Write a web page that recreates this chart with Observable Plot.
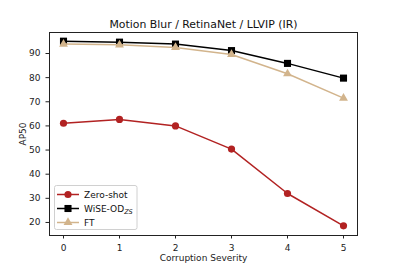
<!DOCTYPE html>
<html><head><meta charset="utf-8">
<script src="https://cdn.jsdelivr.net/npm/d3@7"></script>
<script src="https://cdn.jsdelivr.net/npm/@observablehq/plot@0.6"></script>
<style>body{margin:0;background:#fff;font-family:"DejaVu Sans",sans-serif}#c{position:relative;width:397px;height:264px}</style>
</head><body><div id="c"></div>
<script>
const severity = [0, 1, 2, 3, 4, 5];
const zeroShot = [61.1, 62.7, 60.0, 50.4, 32.0, 18.6];
const wiseOD = [95.1, 94.7, 93.9, 91.2, 85.9, 79.8];
const ft = [93.9, 93.6, 92.5, 89.6, 81.6, 71.5];
const yTicks = [20, 30, 40, 50, 60, 70, 80, 90];
const titleText = "Motion Blur / RetinaNet / LLVIP (IR)";

const series = [
  {name: "Zero-shot", values: zeroShot, color: "#b22222", symbol: "circle", r: 3.6},
  {name: "WiSE-OD", values: wiseOD, color: "#000000", symbol: "square", r: 4.0},
  {name: "FT", values: ft, color: "#d2b48c", symbol: "triangle", r: 3.3}
];
const rows = series.flatMap(s => s.values.map((v, i) => ({x: severity[i], y: v, s: s.name})));

const marks = [];
for (const s of series) {
  const d = rows.filter(r => r.s === s.name);
  marks.push(Plot.line(d, {x: "x", y: "y", stroke: s.color, strokeWidth: 1.5}));
  marks.push(Plot.dot(d, {x: "x", y: "y", fill: s.color, stroke: "none", symbol: () => s.symbol, r: s.r}));
}

const chart = Plot.plot({
  width: 397, height: 264,
  marginLeft: 49, marginRight: 40, marginTop: 32, marginBottom: 29,
  style: {fontFamily: "DejaVu Sans, sans-serif", fontSize: "9px", color: "#222", background: "#fff"},
  x: {domain: [-0.25, 5.25], ticks: severity, tickFormat: d => d, label: "Corruption Severity", labelAnchor: "center", labelOffset: 25.5, tickSize: 3.5, labelArrow: "none"},
  y: {domain: [14.6, 98.7], ticks: yTicks, label: "AP50", labelAnchor: "center", labelOffset: 30, tickSize: 3.5, labelArrow: "none"},
  marks: [
    Plot.frame({stroke: "#222", strokeWidth: 1}),
    ...marks,
    Plot.text([titleText], {frameAnchor: "top", lineAnchor: "bottom", dy: -5, fontSize: 10.9, fill: "#111", text: d => d})
  ]
});
document.getElementById("c").appendChild(chart);

// legend overlay
const svg = d3.select(chart);
const lg = svg.append("g").attr("font-family", "DejaVu Sans, sans-serif").attr("font-size", 9).attr("text-anchor", "start");
lg.append("rect").attr("x", 54.5).attr("y", 185.5).attr("width", 82.5).attr("height", 44).attr("rx", 2)
  .attr("fill", "#fff").attr("fill-opacity", 0.85).attr("stroke", "#d0d0d0");
const sym = {circle: d3.symbolCircle, square: d3.symbolSquare, triangle: d3.symbolTriangle};
series.forEach((s, i) => {
  const y = 194.5 + i * 14;
  lg.append("line").attr("x1", 57).attr("x2", 79).attr("y1", y).attr("y2", y).attr("stroke", s.color).attr("stroke-width", 1.5);
  lg.append("path").attr("d", d3.symbol(sym[s.symbol], Math.PI * s.r * s.r)()).attr("transform", `translate(68,${y})`).attr("fill", s.color);
  const t = lg.append("text").attr("x", 84).attr("y", y + 3.2).attr("fill", "#111").text(s.name);
  if (s.name === "WiSE-OD") t.append("tspan").attr("font-size", 6.5).attr("font-style", "italic").attr("dy", 2).text("ZS");
});
</script></body></html>
